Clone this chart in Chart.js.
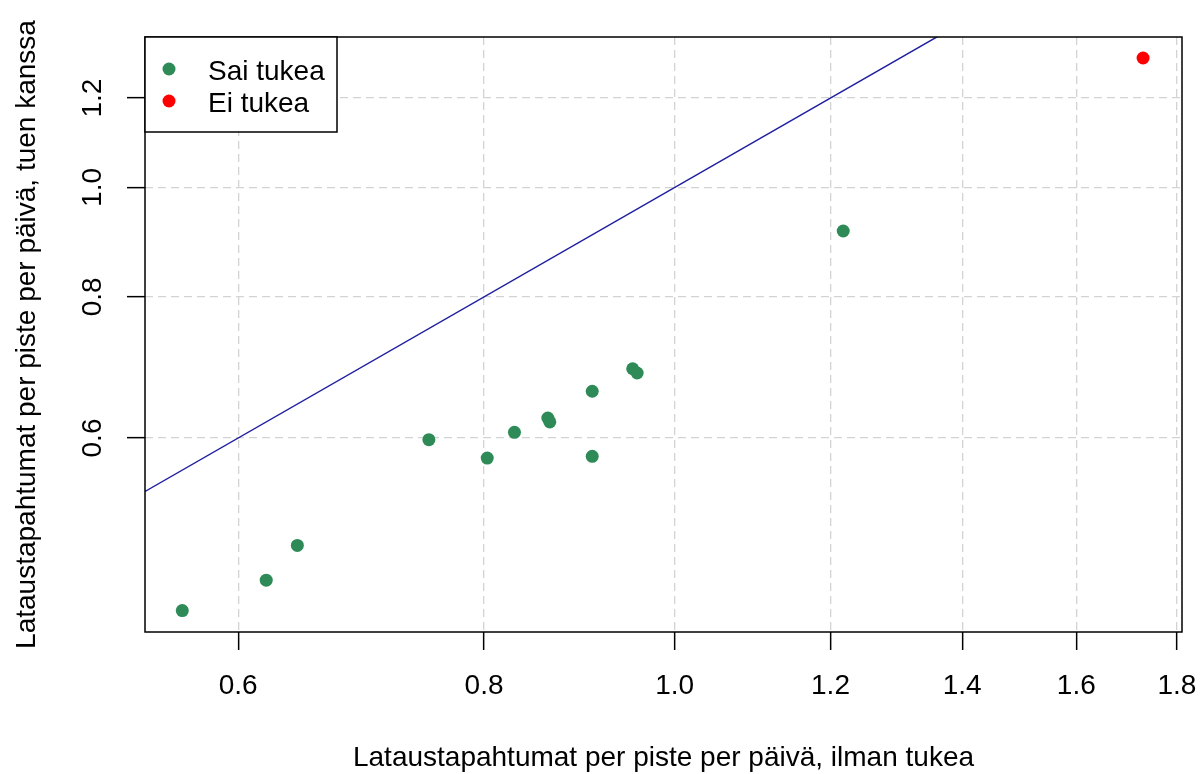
<!DOCTYPE html>
<html>
<head>
<meta charset="utf-8">
<script src="https://cdn.jsdelivr.net/npm/chart.js@4/dist/chart.umd.min.js"></script>
<style>
  body { margin: 0; background: #fff; }
  #wrap { width: 1202px; height: 774px; }
</style>
</head>
<body>
<div id="wrap"><canvas id="plot"></canvas></div>
<script>
const xTicks = [0.6, 0.8, 1.0, 1.2, 1.4, 1.6, 1.8];
const yTicks = [0.6, 0.8, 1.0, 1.2];

const saiX = [0.562, 0.620, 0.643, 0.750, 0.803, 0.829, 0.862, 0.864, 0.908, 0.908, 0.952, 0.957, 1.218];
const saiY = [0.422, 0.449, 0.482, 0.598, 0.576, 0.607, 0.625, 0.620, 0.660, 0.578, 0.691, 0.685, 0.915];

const eiX = [1.730];
const eiY = [1.302];

// y = x reference line, ends well past the plot, clipped to the area
const refLine = [0.4, 2.0];

const FONT = "'Liberation Sans', Arial, sans-serif";

const toPoints = (xs, ys) => xs.map((x, i) => ({ x: x, y: ys[i] }));

// box round the plot + legend in the top left corner
const frame = {
  id: "frame",
  afterDraw(chart) {
    const { ctx, chartArea: a } = chart;
    ctx.save();
    ctx.strokeStyle = "#000";
    ctx.lineWidth = 1.5;
    ctx.strokeRect(a.left, a.top, a.right - a.left, a.bottom - a.top);

    ctx.fillStyle = "#fff";
    ctx.fillRect(a.left, a.top, 192, 95);
    ctx.strokeRect(a.left, a.top, 192, 95);

    ctx.font = "28px " + FONT;
    ctx.textBaseline = "alphabetic";
    const items = chart.data.datasets.filter(d => d.showLine !== true);
    items.forEach((d, i) => {
      const y = a.top + 32 + i * 32;
      ctx.beginPath();
      ctx.arc(a.left + 24, y, 6.5, 0, Math.PI * 2);
      ctx.fillStyle = d.backgroundColor;
      ctx.fill();
      ctx.fillStyle = "#000";
      ctx.fillText(d.label, a.left + 63, y + 11);
    });
    ctx.restore();
  }
};

const tickOpts = () => ({
  autoSkip: false,
  color: "#000",
  font: { family: FONT, size: 28 },
  callback: v => Number(v).toFixed(1)
});

new Chart(document.getElementById("plot"), {
  type: "scatter",
  data: {
    datasets: [
      {
        label: "Sai tukea",
        data: toPoints(saiX, saiY),
        backgroundColor: "#2e8b57",
        borderColor: "#2e8b57",
        pointRadius: 6.5,
        borderWidth: 0
      },
      {
        label: "Ei tukea",
        data: toPoints(eiX, eiY),
        backgroundColor: "#ff0000",
        borderColor: "#ff0000",
        pointRadius: 6.5,
        borderWidth: 0
      },
      {
        label: "y = x",
        data: toPoints(refLine, refLine),
        showLine: true,
        borderColor: "#1f1fa0",
        borderWidth: 1.5,
        pointRadius: 0
      }
    ]
  },
  options: {
    responsive: true,
    maintainAspectRatio: false,
    animation: false,
    layout: { padding: { top: 37, right: 20, left: 0, bottom: 0 } },
    plugins: { legend: { display: false }, tooltip: { enabled: false } },
    scales: {
      x: {
        type: "logarithmic",
        min: 0.538,
        max: 1.8106,
        bounds: "data",
        afterBuildTicks: s => { s.ticks = xTicks.map(v => ({ value: v })); },
        afterFit: s => { s.height = 142; s.paddingLeft = 0; s.paddingRight = 0; },
        grid: {
          color: "#d3d3d3",
          lineWidth: 1.3,
          tickLength: 18,
          tickColor: "#000",
          tickWidth: 1.5,
          tickBorderDash: []
        },
        border: { display: false, dash: [8, 5] },
        ticks: Object.assign(tickOpts(), { padding: 19, maxRotation: 0, minRotation: 0 }),
        title: {
          display: true,
          text: "Lataustapahtumat per piste per päivä, ilman tukea",
          color: "#000",
          font: { family: FONT, size: 28, lineHeight: 1.15 },
          padding: { top: 0, bottom: 0 }
        }
      },
      y: {
        type: "logarithmic",
        min: 0.404,
        max: 1.359,
        bounds: "data",
        afterBuildTicks: s => { s.ticks = yTicks.map(v => ({ value: v })); },
        afterFit: s => { s.width = 145; s.paddingTop = 0; s.paddingBottom = 0; },
        grid: {
          color: "#d3d3d3",
          lineWidth: 1.3,
          tickLength: 18,
          tickColor: "#000",
          tickWidth: 1.5,
          tickBorderDash: []
        },
        border: { display: false, dash: [8, 5] },
        ticks: Object.assign(tickOpts(), { padding: 14, minRotation: 90, maxRotation: 90, crossAlign: "center" }),
        title: {
          display: true,
          text: "Lataustapahtumat per piste per päivä, tuen kanssa",
          color: "#000",
          font: { family: FONT, size: 28, lineHeight: 1.15 },
          padding: { top: 11, bottom: 0 }
        }
      }
    }
  },
  plugins: [frame]
});
</script>
</body>
</html>
